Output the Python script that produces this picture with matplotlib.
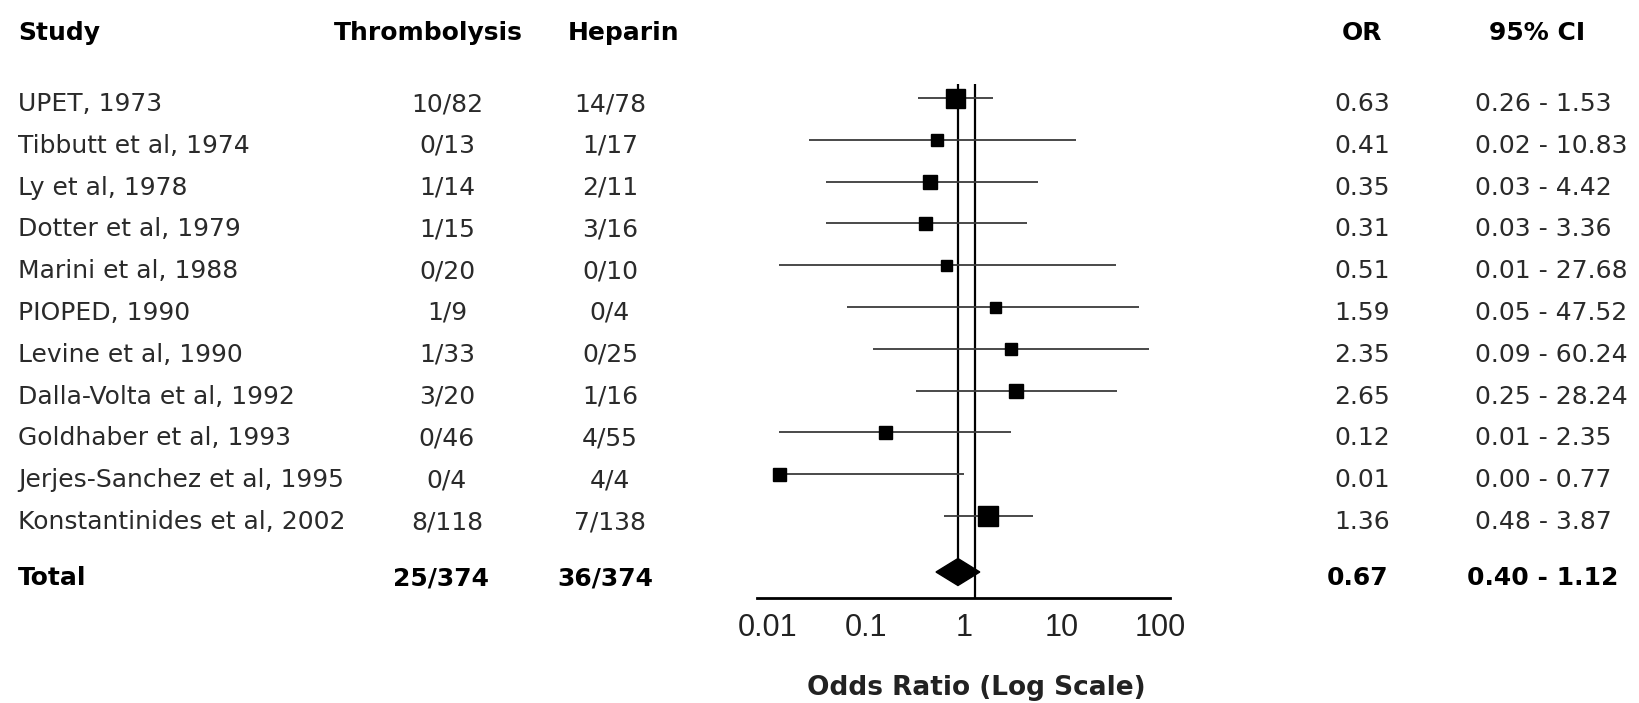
import numpy as np
import matplotlib.pyplot as plt
from matplotlib.transforms import blended_transform_factory, ScaledTranslation

# данные исследований
studies = ['UPET, 1973', 'Tibbutt et al, 1974', 'Ly et al, 1978', 'Dotter et al, 1979',
           'Marini et al, 1988', 'PIOPED, 1990', 'Levine et al, 1990',
           'Dalla-Volta et al, 1992', 'Goldhaber et al, 1993',
           'Jerjes-Sanchez et al, 1995', 'Konstantinides et al, 2002']
thromb = ['10/82', '0/13', '1/14', '1/15', '0/20', '1/9', '1/33', '3/20', '0/46', '0/4', '8/118']
heparin = ['14/78', '1/17', '2/11', '3/16', '0/10', '0/4', '0/25', '1/16', '4/55', '4/4', '7/138']
odds = [0.63, 0.41, 0.35, 0.31, 0.51, 1.59, 2.35, 2.65, 0.12, 0.01, 1.36]
ci_lo = [0.26, 0.02, 0.03, 0.03, 0.01, 0.05, 0.09, 0.25, 0.01, 0.00, 0.48]
ci_hi = [1.53, 10.83, 4.42, 3.36, 27.68, 47.52, 60.24, 28.24, 2.35, 0.77, 3.87]

total_thromb = '25/374'
total_heparin = '36/374'
total_or = 0.67
total_lo = 0.40
total_hi = 1.12

xticks = [0.01, 0.1, 1, 10, 100]
xtick_labels = ['0.01', '0.1', '1', '10', '100']

# размеры квадратов (пиксели)
marker_px = [19, 12, 14, 13, 11, 11, 12, 14, 13, 13, 20]

W, H = 1640, 703
fig = plt.figure(figsize=(W / 100, H / 100), dpi=100)

# ось графика: 1 -> 975 px, 98 px на декаду
x_left, x_right = 745, 1185
y_axis = 598
row0, drow = 98, 41.8
ax = fig.add_axes([x_left / W, (H - y_axis) / H, (x_right - x_left) / W, y_axis / H])
ax.set_xscale('log')
ax.set_xlim(10 ** ((x_left - 975) / 98), 10 ** ((x_right - 975) / 98))
ax.set_ylim((y_axis - row0) / drow, -row0 / drow)

rows = np.arange(len(studies))
total_row = (572 - row0) / drow
top_row = (84 - row0) / drow

# вертикальные линии
ax.vlines(1, top_row, ax.get_ylim()[0], color='black', lw=1.6)
ax.vlines(total_or, top_row, total_row, color='black', lw=1.6)

# доверительные интервалы и точки
lo_draw = np.clip(ci_lo, 0.01, None)
ax.hlines(rows, lo_draw, ci_hi, color='#3a3a3a', lw=1.3)
for r, v, s in zip(rows, odds, marker_px):
    ax.plot(v, r, 's', color='black', markersize=s * 0.72, zorder=3)

# ромб итога
dh = 13.5 / drow
ax.fill([total_lo, total_or, total_hi, total_or], [total_row, total_row - dh, total_row, total_row + dh],
        color='black', zorder=3)

for sp in ['top', 'right', 'left']:
    ax.spines[sp].set_visible(False)
ax.spines['bottom'].set_linewidth(2)
ax.spines['bottom'].set_bounds(10 ** ((757 - 975) / 98), 10 ** ((1170 - 975) / 98))
ax.set_yticks([])
ax.set_xticks(xticks)
ax.set_xticklabels(xtick_labels, fontsize=22, family='Liberation Sans', color='#222222')
ax.xaxis.set_minor_locator(plt.NullLocator())
ax.tick_params(axis='x', length=0, pad=11)
offset = ScaledTranslation(-11 / 100, 0, fig.dpi_scale_trans)
for lab in ax.get_xticklabels():
    lab.set_transform(lab.get_transform() + offset)

ax.set_xlabel('Odds Ratio (Log Scale)', fontsize=19, fontweight='bold', color='#222222')
ax.xaxis.set_label_coords((976 - x_left) / (x_right - x_left), (y_axis - 688) / y_axis)
ax.xaxis.label.set_va('center')

# текстовые колонки
tr = blended_transform_factory(fig.transFigure, ax.transData)
fs = 18
txt = '#2a2a2a'
head_row = (33 - row0) / drow
off = 6 / drow

def col(x):
    return x / W

ax.text(col(18), head_row, 'Study', transform=tr, fontsize=fs, fontweight='bold', va='center', ha='left')
ax.text(col(428), head_row, 'Thrombolysis', transform=tr, fontsize=fs, fontweight='bold', va='center', ha='center')
ax.text(col(624), head_row, 'Heparin', transform=tr, fontsize=fs, fontweight='bold', va='center', ha='center')
ax.text(col(1362), head_row, 'OR', transform=tr, fontsize=fs, fontweight='bold', va='center', ha='center')
ax.text(col(1537), head_row, '95% CI', transform=tr, fontsize=fs, fontweight='bold', va='center', ha='center')

for i in range(len(studies)):
    y = rows[i] + off
    ax.text(col(18), y, studies[i], transform=tr, fontsize=fs, color=txt, va='center', ha='left')
    ax.text(col(447), y, thromb[i], transform=tr, fontsize=fs, color=txt, va='center', ha='center')
    ax.text(col(610), y, heparin[i], transform=tr, fontsize=fs, color=txt, va='center', ha='center')
    ax.text(col(1362), y, f'{odds[i]:.2f}', transform=tr, fontsize=fs, color=txt, va='center', ha='center')
    ax.text(col(1475), y, f'{ci_lo[i]:.2f} - {ci_hi[i]:.2f}', transform=tr, fontsize=fs, color=txt,
            va='center', ha='left')

y = total_row + off
ax.text(col(18), y, 'Total', transform=tr, fontsize=fs, fontweight='bold', va='center', ha='left')
ax.text(col(441), y, total_thromb, transform=tr, fontsize=fs, fontweight='bold', va='center', ha='center')
ax.text(col(605), y, total_heparin, transform=tr, fontsize=fs, fontweight='bold', va='center', ha='center')
ax.text(col(1358), y, f'{total_or:.2f}', transform=tr, fontsize=fs, fontweight='bold', va='center', ha='center')
ax.text(col(1467), y, f'{total_lo:.2f} - {total_hi:.2f}', transform=tr, fontsize=fs, fontweight='bold',
        va='center', ha='left')

fig.savefig('out.png', dpi=100)
